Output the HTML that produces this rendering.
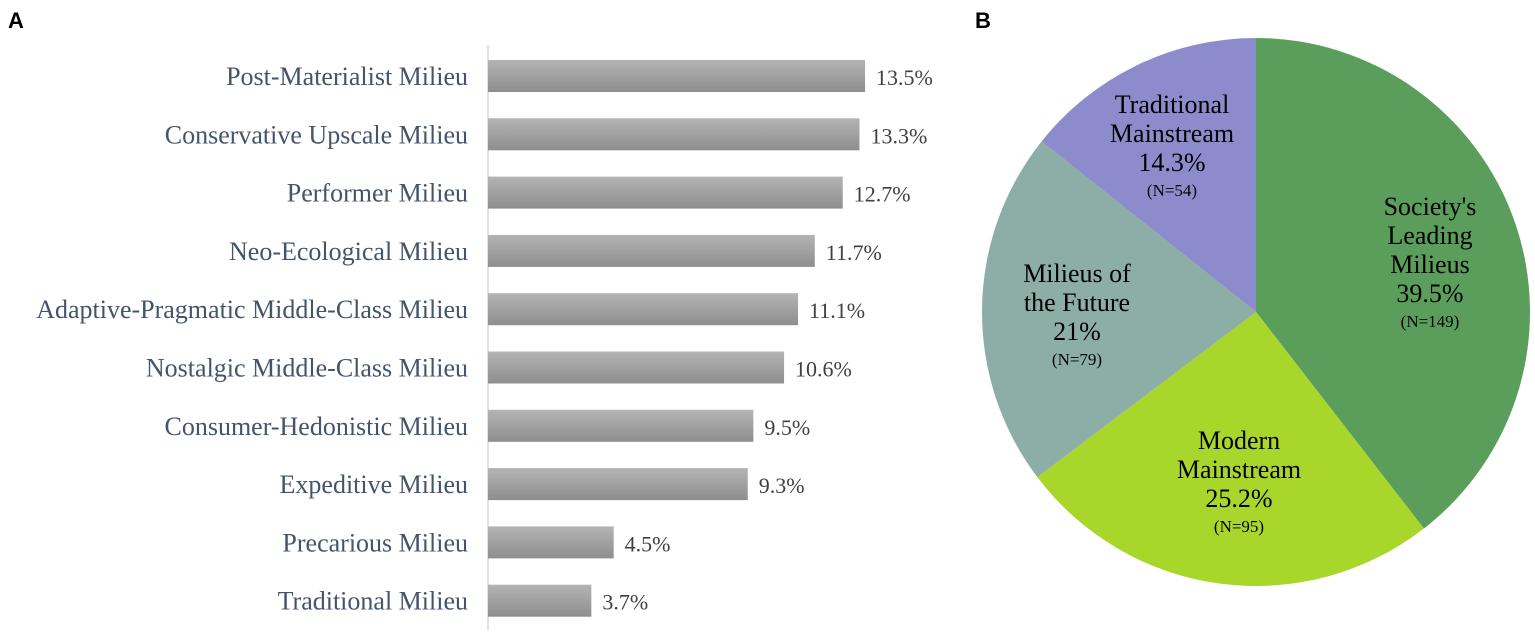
<!DOCTYPE html>
<html><head><meta charset="utf-8"><style>
body{margin:0;background:#fff;}
svg{display:block;font-family:"Liberation Serif",serif;}
</style></head><body>
<svg width="1535" height="635" viewBox="0 0 1535 635">
<defs><linearGradient id="bg" x1="0" y1="0" x2="0" y2="1"><stop offset="0" stop-color="#b4b4b4"/><stop offset="1" stop-color="#8e8e8e"/></linearGradient></defs>
<text x="8" y="28" font-family="Liberation Sans, sans-serif" font-weight="bold" font-size="22">A</text>
<text x="975" y="28" font-family="Liberation Sans, sans-serif" font-weight="bold" font-size="22">B</text>
<line x1="488" y1="45" x2="488" y2="630" stroke="#d9d9d9" stroke-width="1.5"/>
<g id="bars"></g>
<g id="pie"></g>
</svg>
<script>
const categories=["Post-Materialist Milieu","Conservative Upscale Milieu","Performer Milieu","Neo-Ecological Milieu","Adaptive-Pragmatic Middle-Class Milieu","Nostalgic Middle-Class Milieu","Consumer-Hedonistic Milieu","Expeditive Milieu","Precarious Milieu","Traditional Milieu"];
const values=[13.5,13.3,12.7,11.7,11.1,10.6,9.5,9.3,4.5,3.7];
const valueLabels=["13.5%","13.3%","12.7%","11.7%","11.1%","10.6%","9.5%","9.3%","4.5%","3.7%"];
const pieNames=[["Society's","Leading","Milieus"],["Modern","Mainstream"],["Milieus of","the Future"],["Traditional","Mainstream"]];
const pieValues=[39.5,25.2,21,14.3];
const pieValueLabels=["39.5%","25.2%","21%","14.3%"];
const pieCounts=["(N=149)","(N=95)","(N=79)","(N=54)"];
const NS="http://www.w3.org/2000/svg";
function mk(t,a,p){const e=document.createElementNS(NS,t);for(const k in a)e.setAttribute(k,a[k]);p.appendChild(e);return e;}
const x0=488,ppu=27.93;
const xs=v=>x0+v*ppu;
const ys=i=>76+i*58.3;
const bars=document.getElementById('bars');
categories.forEach((c,i)=>{
 const r=mk('rect',{x:x0,y:ys(i)-16,width:xs(values[i])-x0,height:32,fill:'url(#bg)'},bars);
 
 
 const t=mk('text',{x:468,y:ys(i)+9,'text-anchor':'end','font-size':26,fill:'#44546a'},bars);t.textContent=c;
 
 
 const v=mk('text',{x:xs(values[i])+11,y:ys(i)+9,'font-size':22,fill:'#404040'},bars);v.textContent=valueLabels[i];
 
 
});
const pie=document.getElementById('pie');
const cx=1256,cy=312,R=274;
const colors=["#5b9e5b","#a9d62b","#8caea6","#8c8ccc"];
const labelPos=[[1430,215],[1239,449],[1077,282],[1172,113]];
const total=pieValues.reduce((a,b)=>a+b,0);
let a0=0;
pieValues.forEach((v,i)=>{
 const a1=a0+v/total*2*Math.PI;
 const p=(a)=>[cx+R*Math.sin(a),cy-R*Math.cos(a)];
 const [x1,y1]=p(a0),[x2,y2]=p(a1);
 const s=mk('path',{d:`M${cx},${cy}L${x1},${y1}A${R},${R} 0 ${a1-a0>Math.PI?1:0} 1 ${x2},${y2}Z`,fill:colors[i]},pie);
 
 
 a0=a1;
});
pieValues.forEach((v,i)=>{
 const [lx,ly]=labelPos[i];
 const g=mk('g',{},pie);
 
 
 let y=ly;
 pieNames[i].concat([pieValueLabels[i]]).forEach(l=>{const t=mk('text',{x:lx,y:y,'text-anchor':'middle','font-size':26,fill:'#000'},g);t.textContent=l;y+=29;});
 const n=mk('text',{x:lx,y:y-4,'text-anchor':'middle','font-size':17,fill:'#000'},g);n.textContent=pieCounts[i];
});
</script>
</body></html>
